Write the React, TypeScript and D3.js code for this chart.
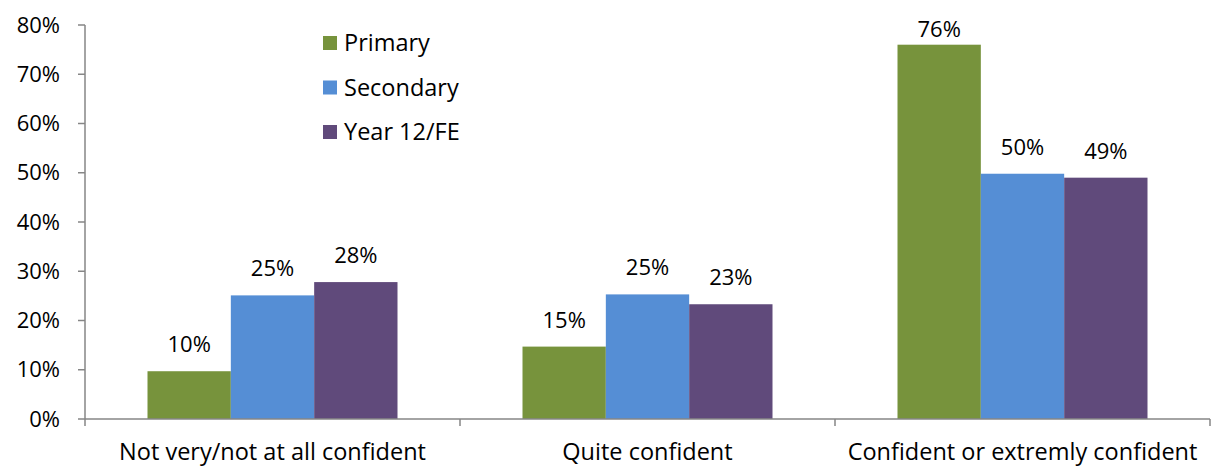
import * as d3 from "d3";
import { useRef, useEffect } from "react";

const categories = ["Not very/not at all confident", "Quite confident", "Confident or extremly confident"];
const seriesNames = ["Primary", "Secondary", "Year 12/FE"];
const colors = ["#77933C", "#558ED5", "#604A7B"];
const primary = [9.7, 14.7, 76.0];
const secondary = [25.1, 25.3, 49.8];
const year12 = [27.8, 23.3, 49.0];
const yTicks = [0, 10, 20, 30, 40, 50, 60, 70, 80];

const W = 1212;
const H = 466;
const FONT = "'Open Sans', 'Noto Sans', sans-serif";
const FS = 22; // numbers
const FS_TEXT = 23.5; // words

function App() {
  const ref = useRef<SVGSVGElement>(null);

  useEffect(() => {
    const svg = d3.select(ref.current);
    svg.selectAll("*").remove();

    const left = 85, right = 1210, top = 25, bottom = 419;
    const values = [primary, secondary, year12];

    const x = d3.scaleBand().domain(categories).range([left, right]);
    const x1 = d3.scaleBand().domain(seriesNames).range([0, x.bandwidth()]).paddingOuter(0.75);
    const y = d3.scaleLinear().domain([0, 80]).range([bottom, top]);

    // y axis
    svg.append("line").attr("x1", left).attr("x2", left).attr("y1", top).attr("y2", bottom)
      .attr("stroke", "#868686").attr("stroke-width", 1.5);
    svg.selectAll(".ytick").data(yTicks).join("line")
      .attr("x1", left - 7).attr("x2", left).attr("y1", (d) => y(d)).attr("y2", (d) => y(d))
      .attr("stroke", "#868686").attr("stroke-width", 1.5);
    svg.selectAll(".ylab").data(yTicks).join("text")
      .attr("x", 60).attr("y", (d) => y(d)).attr("dy", "0.35em")
      .attr("text-anchor", "end").attr("font-family", FONT).attr("font-size", FS).attr("fill", "#000")
      .text((d) => d + "%");

    // bars
    seriesNames.forEach((s, si) => {
      svg.append("g").selectAll("rect").data(values[si]).join("rect")
        .attr("x", (d, i) => x(categories[i])! + x1(s)!)
        .attr("width", x1.bandwidth())
        .attr("y", (d) => y(d))
        .attr("height", (d) => bottom - y(d))
        .attr("fill", colors[si]);
      svg.append("g").selectAll("text").data(values[si]).join("text")
        .attr("x", (d, i) => x(categories[i])! + x1(s)! + x1.bandwidth() / 2)
        .attr("y", (d) => Math.max(y(d) - 19, 37))
        .attr("text-anchor", "middle").attr("font-family", FONT).attr("font-size", FS).attr("fill", "#000")
        .text((d) => d3.format(".0f")(d) + "%");
    });

    // x axis
    svg.append("line").attr("x1", left).attr("x2", right).attr("y1", bottom).attr("y2", bottom)
      .attr("stroke", "#868686").attr("stroke-width", 1.5);
    const bounds = [left, ...categories.map((c) => x(c)! + x.bandwidth())];
    svg.selectAll(".xtick").data(bounds).join("line")
      .attr("x1", (d) => d).attr("x2", (d) => d).attr("y1", bottom).attr("y2", bottom + 7)
      .attr("stroke", "#868686").attr("stroke-width", 1.5);
    svg.selectAll(".xlab").data(categories).join("text")
      .attr("x", (d) => x(d)! + x.bandwidth() / 2).attr("y", 460)
      .attr("text-anchor", "middle").attr("font-family", FONT).attr("font-size", FS_TEXT).attr("fill", "#000")
      .text((d) => d);

    // legend
    const lg = svg.append("g").selectAll("g").data(seriesNames).join("g")
      .attr("transform", (d, i) => `translate(323,${43 + i * 44.5})`);
    lg.append("rect").attr("x", 0).attr("y", -7).attr("width", 14).attr("height", 14)
      .attr("fill", (d, i) => colors[i]);
    lg.append("text").attr("x", 21).attr("y", 0).attr("dy", "0.35em")
      .attr("font-family", FONT).attr("font-size", FS_TEXT).attr("fill", "#000")
      .text((d) => d);
  }, []);

  return (
    <div>
      <svg ref={ref} width={W} height={H} style={{ position: "absolute", left: 0, top: 0, background: "#fff" }}></svg>
    </div>
  );
}

export default App;
